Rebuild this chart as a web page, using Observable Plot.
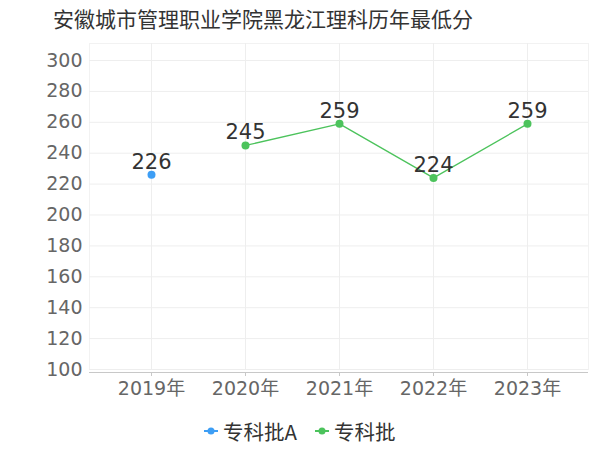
<!DOCTYPE html>
<html>
<head>
<meta charset="utf-8">
<script src="https://cdn.jsdelivr.net/npm/d3@7"></script>
<script src="https://cdn.jsdelivr.net/npm/@observablehq/plot@0.6"></script>
<style>
  html, body { margin: 0; padding: 0; background: #fff; }
  #wrap { position: relative; width: 600px; height: 450px; font-family: "DejaVu Sans", "Noto Sans CJK SC", sans-serif; }
  #title { position: absolute; left: 53px; top: 3px; font-size: 21px; color: #333; font-family: "Noto Sans CJK SC", sans-serif; line-height: 30px; white-space: nowrap; font-weight: 400; }
  #chart { position: absolute; left: 0; top: 40px; }
  #legend { position: absolute; left: 0; top: 410px; width: 600px; height: 40px; }
  .item { position: absolute; top: 8px; display: flex; align-items: center; font-size: 20.5px; color: #333; font-family: "Noto Sans CJK SC", sans-serif; line-height: 26px; }
  .item svg { margin-right: 5px; }
</style>
</head>
<body>
<div id="wrap">
  <div id="title">安徽城市管理职业学院黑龙江理科历年最低分</div>
  <div id="chart"></div>
  <div id="legend"></div>
</div>
<script>
const years = ["2019年", "2020年", "2021年", "2022年", "2023年"];
const seriesNames = ["专科批A", "专科批"];
const seriesColors = ["#3d9ef5", "#4cc35c"];
const yearsA = ["2019年"];
const valuesA = [226];
const yearsB = ["2020年", "2021年", "2022年", "2023年"];
const valuesB = [245, 259, 224, 259];
const yTicks = [100, 120, 140, 160, 180, 200, 220, 240, 260, 280, 300];

const dataA = yearsA.map((y, i) => ({year: y, value: valuesA[i], series: seriesNames[0]}));
const dataB = yearsB.map((y, i) => ({year: y, value: valuesB[i], series: seriesNames[1]}));

const chart = Plot.plot({
  width: 600,
  height: 370,
  marginLeft: 89,
  marginRight: 12,
  marginTop: 3,
  marginBottom: 41,
  style: {fontFamily: '"DejaVu Sans", "Noto Sans CJK SC", sans-serif', background: "transparent"},
  x: {type: "point", domain: years, padding: 0.654},
  y: {domain: [100, 311]},
  marks: [
    Plot.frame({stroke: "#f2f2f2"}),
    Plot.gridY(yTicks, {stroke: "#eeeeee", strokeOpacity: 1}),
    Plot.gridX(years, {stroke: "#eeeeee", strokeOpacity: 1}),
    Plot.axisY(yTicks, {tickSize: 0, tickPadding: 7, fontSize: 19, fill: "#666", label: null, line: true, stroke: "#c8c8c8"}),
    Plot.ruleY([100], {stroke: "#c8c8c8", dy: 3}),
    Plot.axisX(years, {tickSize: 4, dy: 3, tickPadding: 5, fontSize: 19, fill: "#666", stroke: "#c8c8c8", label: null}),
    Plot.line(dataB, {x: "year", y: "value", stroke: seriesColors[1], strokeWidth: 1.3}),
    Plot.dot(dataA, {x: "year", y: "value", r: 4, fill: seriesColors[0], stroke: "none"}),
    Plot.dot(dataB, {x: "year", y: "value", r: 4, fill: seriesColors[1], stroke: "none"}),
    Plot.text(dataA.concat(dataB), {x: "year", y: "value", text: d => String(d.value), dy: -13, fontSize: 21, fill: "#333"})
  ]
});
document.getElementById("chart").appendChild(chart);

const legend = document.getElementById("legend");
const lefts = [204, 315];
seriesNames.forEach((name, i) => {
  const div = document.createElement("div");
  div.className = "item";
  div.style.left = lefts[i] + "px";
  div.innerHTML = `<svg width="14" height="10"><line x1="0" y1="5" x2="14" y2="5" stroke="${seriesColors[i]}" stroke-width="2"/><circle cx="7" cy="5" r="3.5" fill="${seriesColors[i]}"/></svg>`;
  const span = document.createElement("span");
  span.textContent = name;
  div.appendChild(span);
  legend.appendChild(div);
});
</script>
</body>
</html>
